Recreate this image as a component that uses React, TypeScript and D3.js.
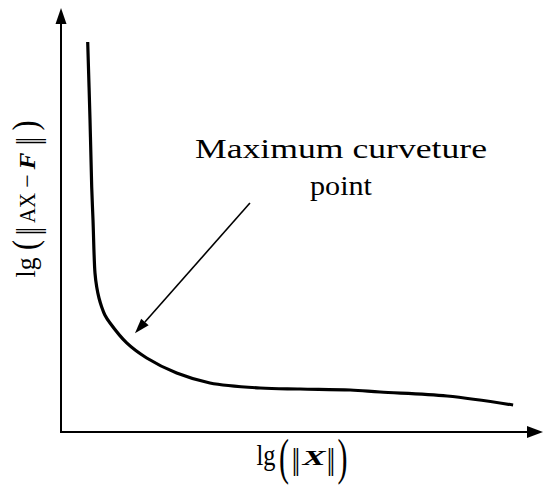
import React from "react";
import * as d3 from "d3";

// Curve values (arbitrary units, 0–100 on both axes)
const curveX = [5.54, 6.02, 6.37, 6.64, 7.05, 7.41, 7.88, 8.44, 9.1, 10.17, 13.63, 17.78, 24.0, 30.9, 41.3, 49.6, 60.0, 66.2, 80.1, 93.8];
const curveY = [91.98, 73.58, 57.78, 50.0, 37.5, 34.2, 31.6, 29.5, 27.6, 25.7, 21.0, 17.45, 13.9, 11.56, 10.38, 10.14, 9.9, 9.43, 8.49, 6.37];

// Annotation arrow: from (start) to (tip), in data units
const annoFrom = [39.2, 54.0];
const annoTo = [15.35, 23.3];
const annoLines = ["Maximum curveture", "point"];

const W = 550;
const H = 486;
const FONT = "'Liberation Serif', 'Times New Roman', serif";
const SYM = "'DejaVu Serif', serif";

function Paren({ cx, by, ch, sy, shift }: { cx: number; by: number; ch: string; sy: number; shift: number }) {
  return (
    <text
      transform={`translate(${cx},${by + shift}) scale(1,${sy})`}
      fontFamily={FONT}
      fontSize={30}
      textAnchor="middle"
      fill="#000"
    >
      {ch}
    </text>
  );
}

function Bars({ cx, by, s, shift }: { cx: number; by: number; s: number; shift: number }) {
  return (
    <text
      transform={`translate(${cx},${by + shift}) scale(0.85,${s})`}
      fontFamily={SYM}
      fontSize={21}
      textAnchor="middle"
      fill="#000"
    >
      ‖
    </text>
  );
}

export default function App() {
  const x = d3.scaleLinear().domain([0, 100]).range([61, 543]);
  const y = d3.scaleLinear().domain([0, 100]).range([432, 8]);

  const pts: [number, number][] = curveX.map((v, i) => [v, curveY[i]]);
  const line = d3
    .line<[number, number]>()
    .x((d) => x(d[0]))
    .y((d) => y(d[1]))
    .curve(d3.curveCatmullRom.alpha(0.5));

  // annotation arrow geometry
  const ax1 = x(annoFrom[0]);
  const ay1 = y(annoFrom[1]);
  const ax2 = x(annoTo[0]);
  const ay2 = y(annoTo[1]);
  const ang = Math.atan2(ay2 - ay1, ax2 - ax1);
  const hl = 15;
  const hw = 5;
  const bx = ax2 - hl * Math.cos(ang);
  const by = ay2 - hl * Math.sin(ang);
  const head = `M${ax2},${ay2} L${bx + hw * Math.sin(ang)},${by - hw * Math.cos(ang)} L${bx - hw * Math.sin(ang)},${by + hw * Math.cos(ang)} Z`;

  const x0 = x(0);
  const y0 = y(0);
  const xEnd = x(100);
  const yEnd = y(100);

  const xb = 465; // x-label baseline

  return (
    <svg width={W} height={H} style={{ position: "absolute", left: 0, top: 0, background: "#fff" }}>
      {/* axes */}
      <line x1={x0} y1={y0} x2={xEnd - 14} y2={y0} stroke="#000" strokeWidth={2} />
      <path d={`M${xEnd},${y0} L${xEnd - 16},${y0 - 6} L${xEnd - 16},${y0 + 6} Z`} fill="#000" />
      <line x1={x0} y1={y0 + 1} x2={x0} y2={yEnd + 14} stroke="#000" strokeWidth={2} />
      <path d={`M${x0},${yEnd} L${x0 - 5.5},${yEnd + 16} L${x0 + 5.5},${yEnd + 16} Z`} fill="#000" />

      {/* curve */}
      <path d={line(pts) || ""} fill="none" stroke="#000" strokeWidth={3.2} strokeLinecap="butt" />

      {/* annotation arrow */}
      <line x1={ax1} y1={ay1} x2={bx} y2={by} stroke="#000" strokeWidth={1.6} />
      <path d={head} fill="#000" />

      {/* annotation text */}
      <text x={341} y={158} fontFamily={FONT} fontSize={27} textAnchor="middle" textLength={292} lengthAdjust="spacingAndGlyphs" fill="#000">
        {annoLines[0]}
      </text>
      <text x={341} y={195} fontFamily={FONT} fontSize={27} textAnchor="middle" textLength={62} lengthAdjust="spacingAndGlyphs" fill="#000">
        {annoLines[1]}
      </text>

      {/* x axis label: lg(‖X‖) */}
      <g>
        <text x={266} y={xb} fontFamily={FONT} fontSize={30} textAnchor="middle" textLength={19} lengthAdjust="spacingAndGlyphs" fill="#000">lg</text>
        <Paren cx={284} by={xb} ch="(" sy={1.68} shift={9} />
        <Bars cx={296} by={xb} s={1.3} shift={4} />
        <text x={314} y={xb} fontFamily={FONT} fontSize={21} fontStyle="italic" fontWeight={600} textAnchor="middle" textLength={23} lengthAdjust="spacingAndGlyphs" fill="#000">X</text>
        <Bars cx={331} by={xb} s={1.3} shift={4} />
        <Paren cx={342.5} by={xb} ch=")" sy={1.68} shift={9} />
      </g>

      {/* y axis label: lg(‖AX − F‖) */}
      <g transform="translate(35,278) rotate(-90)">
        <text x={10.5} y={0} fontFamily={FONT} fontSize={27} textAnchor="middle" textLength={20} lengthAdjust="spacingAndGlyphs" fill="#000">lg</text>
        <Paren cx={33} by={0} ch="(" sy={1.2} shift={2} />
        <Bars cx={47} by={0} s={1.4} shift={4} />
        <text x={70} y={0} fontFamily={FONT} fontSize={24} textAnchor="middle" textLength={30} lengthAdjust="spacingAndGlyphs" fill="#000">AX</text>
        <text x={97} y={0} fontFamily={FONT} fontSize={24} textAnchor="middle" fill="#000">−</text>
        <text x={117} y={0} fontFamily={FONT} fontSize={24} fontStyle="italic" fontWeight={600} textAnchor="middle" textLength={17} lengthAdjust="spacingAndGlyphs" fill="#000">F</text>
        <Bars cx={137} by={0} s={1.4} shift={4} />
        <Paren cx={152.5} by={0} ch=")" sy={1.2} shift={2} />
      </g>
    </svg>
  );
}
